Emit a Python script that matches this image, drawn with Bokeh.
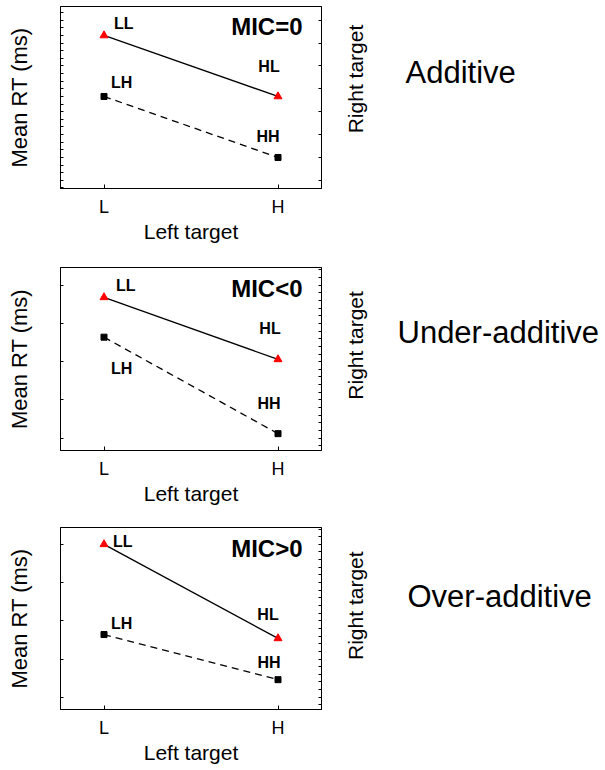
import math
from bokeh.plotting import figure
from bokeh.models import Range1d, FixedTicker, LinearAxis, Label, CustomJSTickFormatter
from bokeh.layouts import column, row
from bokeh.embed import file_html
from bokeh.resources import INLINE
from bokeh.core.properties import value

# ---------------- data ----------------
left_levels = ["L", "H"]          # left target salience (x axis)
x_pos = [1, 2]
mic_titles = ["MIC=0", "MIC<0", "MIC>0"]
panel_names = ["Additive", "Under-additive", "Over-additive"]
# Mean RT (ms); right target Low -> LL, HL ; right target High -> LH, HH
right_low_names = ["LL", "HL"]
right_high_names = ["LH", "HH"]
rt_right_low = [[520, 440], [534, 453], [550, 427]]
rt_right_high = [[440, 360], [482, 356], [432, 373]]
y_limits = [(319.3, 558.0), (334, 573), (334, 572)]
left_ticks = [list(range(320, 560, 10)), [350, 400, 450, 500, 550], [350, 400, 450, 500, 550]]
right_ticks = [list(range(330, 560, 30)), list(range(340, 575, 10)), list(range(340, 575, 10))]

# ---------------- styles ----------------
FONT = "Liberation Sans"
PLOT_W = 330
TEXT_W = 275
FRAME_W = 261
BORDER_L = 60
heights = [256, 256, 256]
tops = [6, 11, 15]
frame_hs = [182, 183, 182]
# (x_offset, y_offset, align) for each point label
low_off = [[(10, -12, "left"), (-9, -30, "center")],
           [(12, -12, "left"), (-8, -31, "center")],
           [(9, -3, "left"), (-10, -24, "center")]]
high_off = [[(7, -14, "left"), (-10, -21, "center")],
            [(7, 31, "left"), (-9, -30, "center")],
            [(7, -11, "left"), (-9, -17, "center")]]
# page-pixel positions of the side texts
right_label_pos = [(355, 102), (355, 365), (355, 622)]
name_pos = [(405, 93), (397, 346.5), (407, 609)]
mic_pos = [(242, 162), (242, 162), (242, 161)]

empty_fmt = CustomJSTickFormatter(code="return ''")


def make_panel(i):
    y0, y1 = y_limits[i]
    h = heights[i]
    p = figure(width=PLOT_W, height=h, x_range=Range1d(0.75, 2.25), y_range=Range1d(y0, y1),
               output_backend="svg", toolbar_location=None, tools="",
               min_border_left=BORDER_L, min_border_right=PLOT_W - BORDER_L - FRAME_W,
               min_border_top=tops[i], min_border_bottom=h - tops[i] - frame_hs[i])
    p.xgrid.visible = False
    p.ygrid.visible = False
    p.outline_line_color = "black"
    p.outline_line_width = 1
    p.outline_line_alpha = 1
    p.background_fill_color = "white"
    p.border_fill_color = "white"

    xa = p.xaxis[0]
    xa.ticker = FixedTicker(ticks=x_pos)
    xa.major_label_overrides = {1: left_levels[0], 2: left_levels[1]}
    xa.major_tick_in = 4
    xa.major_tick_out = 0
    xa.minor_tick_in = 0
    xa.minor_tick_out = 0
    xa.major_label_standoff = 8
    xa.major_label_text_font = FONT
    xa.major_label_text_font_size = "18px"
    xa.major_label_text_color = "black"
    xa.axis_label = "Left target"
    xa.axis_label_text_font = FONT
    xa.axis_label_text_font_size = "21px"
    xa.axis_label_text_font_style = "normal"
    xa.axis_label_text_color = "black"
    xa.axis_label_standoff = 0
    xa.axis_line_color = "black"
    xa.major_tick_line_color = "black"

    ya = p.yaxis[0]
    ya.ticker = FixedTicker(ticks=left_ticks[i])
    ya.formatter = empty_fmt
    ya.major_tick_in = 3
    ya.major_tick_out = 0
    ya.minor_tick_in = 0
    ya.minor_tick_out = 0
    ya.major_label_standoff = 0
    ya.axis_label = "Mean RT (ms)"
    ya.axis_label_text_font = FONT
    ya.axis_label_text_font_size = "22px"
    ya.axis_label_text_font_style = "normal"
    ya.axis_label_text_color = "black"
    ya.axis_label_standoff = 29
    ya.axis_line_color = "black"
    ya.major_tick_line_color = "black"

    ra = LinearAxis(ticker=FixedTicker(ticks=right_ticks[i]), formatter=empty_fmt,
                    major_tick_in=3, major_tick_out=0, minor_tick_in=0, minor_tick_out=0,
                    major_label_standoff=0,
                    axis_line_color="black", major_tick_line_color="black")
    p.add_layout(ra, "right")

    p.line(x_pos, rt_right_low[i], line_color="black", line_width=1.3)
    p.line(x_pos, rt_right_high[i], line_color="black", line_width=1.3, line_dash="7 5")
    p.scatter(x_pos, rt_right_low[i], marker="triangle", size=8, fill_color="red", line_color="red")
    p.scatter(x_pos, rt_right_high[i], marker="square", size=6, fill_color="black", line_color="black")

    for names, vals, offs in ((right_low_names, rt_right_low[i], low_off[i]),
                              (right_high_names, rt_right_high[i], high_off[i])):
        for k in range(2):
            dx, dy, al = offs[k]
            p.text(x=[x_pos[k]], y=[vals[k]], text=[names[k]], x_offset=dx, y_offset=dy,
                   text_align=al, text_baseline="middle", text_font=value(FONT),
                   text_font_size="16px", text_font_style="bold", text_color="black")

    mx, my = mic_pos[i]
    p.add_layout(Label(x=mx, y=my, x_units="screen", y_units="screen", text=mic_titles[i],
                       text_align="right", text_baseline="middle", text_font=FONT,
                       text_font_size="24px", text_font_style="bold", text_color="black"))

    # side text area, in page-pixel coordinates
    row_top = sum(heights[:i])
    row_bot = row_top + h
    t = figure(width=TEXT_W, height=h, x_range=Range1d(PLOT_W, PLOT_W + TEXT_W),
               y_range=Range1d(row_bot, row_top), output_backend="svg",
               toolbar_location=None, tools="", x_axis_location=None, y_axis_location=None,
               min_border=0, min_border_left=0, min_border_right=0,
               min_border_top=0, min_border_bottom=0)
    t.xgrid.visible = False
    t.ygrid.visible = False
    t.outline_line_color = None
    t.background_fill_color = "white"
    t.border_fill_color = "white"
    rx, ry = right_label_pos[i]
    t.text(x=[rx], y=[ry], text=["Right target"], angle=math.pi / 2,
           text_align="center", text_baseline="middle", text_font=value(FONT),
           text_font_size="21px", text_color="black")
    nx, ny = name_pos[i]
    t.text(x=[nx], y=[ny], text=[panel_names[i]], text_align="left",
           text_baseline="middle", text_font=value(FONT), text_font_size="31px",
           text_color="black")
    return row(p, t, spacing=0)


rows = [make_panel(i) for i in range(3)]
layout = column(*rows, spacing=0)
open("out.html", "w").write(file_html(layout, INLINE))
